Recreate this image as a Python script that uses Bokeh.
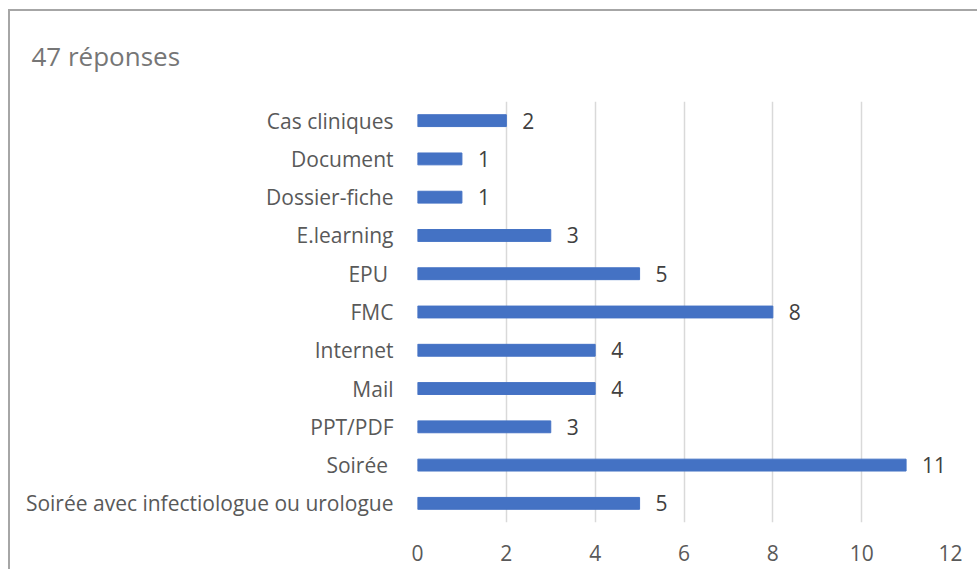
from bokeh.plotting import figure
from bokeh.models import ColumnDataSource, FactorRange, FixedTicker
from bokeh.core.properties import value
from bokeh.embed import file_html
from bokeh.resources import INLINE

categories = ["Cas cliniques", "Document", "Dossier-fiche", "E.learning", "EPU ",
              "FMC", "Internet", "Mail", "PPT/PDF", "Soirée ",
              "Soirée avec infectiologue ou urologue"]
counts = [2, 1, 1, 3, 5, 8, 4, 4, 3, 11, 5]
x_ticks = [0, 2, 4, 6, 8, 10, 12]
title_text = "47 réponses"

FONT = "Open Sans"
src = ColumnDataSource(dict(cat=categories, n=counts, lab=[str(c) for c in counts]))

p = figure(width=969, height=560, output_backend="svg", toolbar_location=None,
           y_range=FactorRange(factors=list(reversed(categories)), range_padding=0),
           x_range=(0, 12),
           min_border_left=407, min_border_right=29, min_border_top=89, min_border_bottom=49,
           title=title_text)
p.outline_line_color = None
p.background_fill_color = "white"
p.border_fill_color = "white"
p.title.text_font = FONT
p.title.text_font_size = "26px"
p.title.text_font_style = "normal"
p.title.text_color = "#767676"
p.title.align = "left"
p.title.vertical_align = "top"
p.title.offset = -386
p.title.standoff = 52
p.styles = {"border-left": "2px solid #a6a6a6", "border-top": "2px solid #a6a6a6",
            "margin-left": "8px", "margin-top": "9px"}

p.hbar(y="cat", right="n", height=0.31, source=src, color="#4472C4")
p.text(x="n", y="cat", text="lab", source=src, x_offset=16, text_baseline="middle",
       text_align="left", text_font=value(FONT), text_font_size="21px", text_color="#404040")

p.xaxis.ticker = FixedTicker(ticks=x_ticks)
for ax in (p.xaxis[0], p.yaxis[0]):
    ax.axis_line_color = None
    ax.major_tick_line_color = None
    ax.minor_tick_line_color = None
    ax.major_label_text_font = FONT
    ax.major_label_text_font_size = "21px"
    ax.major_label_text_color = "#595959"
p.xaxis.major_label_standoff = 16
p.yaxis.major_label_standoff = 18

p.xgrid.grid_line_color = "#d9d9d9"
p.xgrid.grid_line_width = 1.5
p.ygrid.grid_line_color = None

open("out.html", "w").write(file_html(p, INLINE))
